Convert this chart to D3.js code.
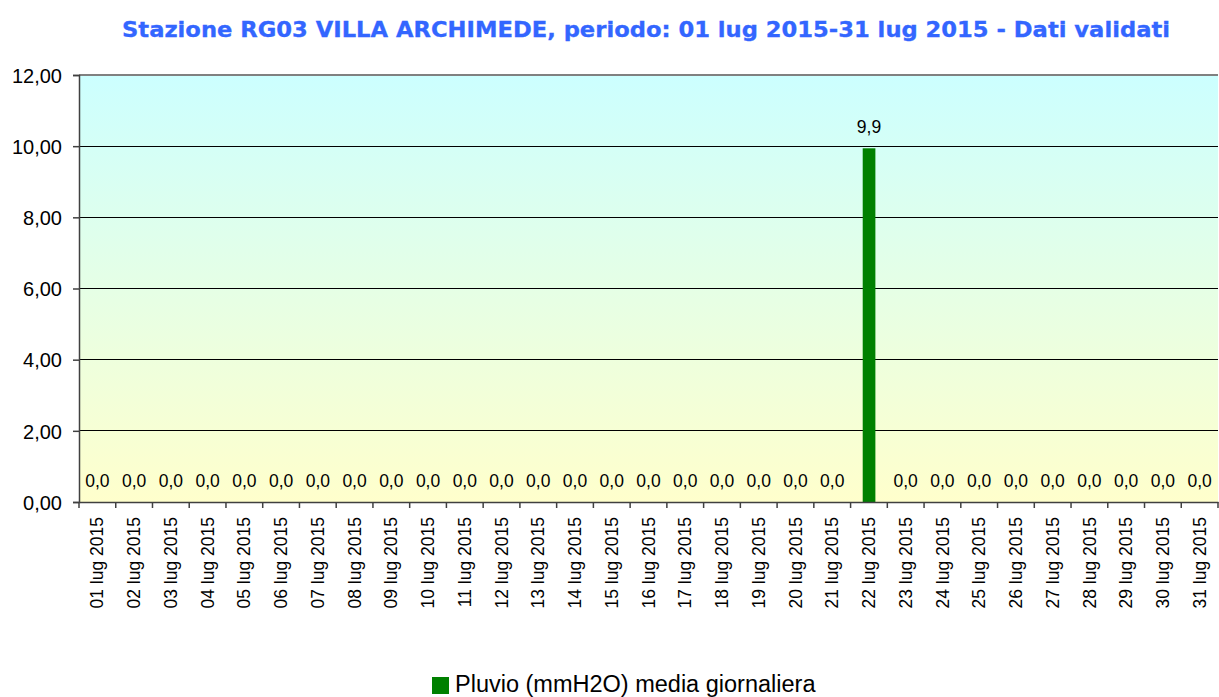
<!DOCTYPE html>
<html><head><meta charset="utf-8">
<script src="https://cdn.jsdelivr.net/npm/d3@7"></script>
<style>body{margin:0;background:#fff}svg{display:block}</style>
</head><body><svg id="c" width="1219" height="697"></svg>
<script>
const days = Array.from({length:31},(_,i)=>String(i+1).padStart(2,"0")+" lug 2015");
const values = [0,0,0,0,0,0,0,0,0,0,0,0,0,0,0,0,0,0,0,0,0,9.94,0,0,0,0,0,0,0,0,0];
const yTicks = [0,2,4,6,8,10,12];
const title = "Stazione RG03 VILLA ARCHIMEDE, periodo: 01 lug 2015-31 lug 2015 - Dati validati";
const legendLabel = "Pluvio (mmH2O) media giornaliera";

const svg = d3.select("#c");
const m = {l:79, r:1218, t:75, b:502};
const x = d3.scaleBand().domain(days).range([m.l, m.r]).paddingInner(0).paddingOuter(0);
const y = d3.scaleLinear().domain([0,12]).range([m.b, m.t]);

const defs = svg.append("defs");
const g = defs.append("linearGradient").attr("id","bg").attr("x1",0).attr("y1",0).attr("x2",0).attr("y2",1);
g.append("stop").attr("offset","0%").attr("stop-color","#ccffff");
g.append("stop").attr("offset","100%").attr("stop-color","#ffffcc");

svg.append("rect").attr("x",m.l).attr("y",m.t).attr("width",m.r-m.l).attr("height",m.b-m.t).attr("fill","url(#bg)");

// gridlines
svg.append("g").selectAll("line").data(yTicks.filter(d=>d>0&&d<12)).join("line")
  .attr("x1",m.l).attr("x2",m.r).attr("y1",d=>y(d)).attr("y2",d=>y(d))
  .attr("stroke","#000").attr("stroke-width",1).attr("shape-rendering","crispEdges");
svg.append("line").attr("x1",m.l).attr("x2",m.r).attr("y1",y(12)).attr("y2",y(12))
  .attr("stroke","#808080").attr("stroke-width",1.5).attr("shape-rendering","crispEdges");

// bars
svg.append("g").selectAll("rect").data(values).join("rect")
  .attr("x",(d,i)=>x(days[i])+x.bandwidth()*0.33).attr("width",x.bandwidth()*0.345)
  .attr("y",d=>y(d)).attr("height",d=>y(0)-y(d)).attr("fill","#008000");

// value labels
svg.append("g").selectAll("text").data(values).join("text")
  .attr("x",(d,i)=>x(days[i])+x.bandwidth()/2).attr("y",d=>y(d)-15)
  .attr("text-anchor","middle").attr("font-family","Liberation Sans, Arial, sans-serif")
  .attr("font-size",17.5).attr("fill","#000")
  .text(d=>(Math.floor(d*10)/10).toFixed(1).replace(".",","));

// y axis
const ya = d3.axisLeft(y).tickValues(yTicks).tickSize(6).tickFormat(d=>d.toFixed(2).replace(".",","));
const yg = svg.append("g").attr("transform",`translate(${m.l},0)`).call(ya);
yg.select(".domain").attr("stroke","#404040").attr("stroke-width",1.5);
yg.selectAll(".tick line").attr("stroke","#404040").attr("stroke-width",1.5);
yg.selectAll("text").attr("font-family","Liberation Sans, Arial, sans-serif").attr("font-size",20).attr("fill","#000").attr("x",-17).attr("dy","0.36em");

// x axis
const xa = d3.axisBottom(x).tickSize(0).tickSizeOuter(0);
const xg = svg.append("g").attr("transform",`translate(0,${m.b})`).call(xa);
xg.select(".domain").attr("stroke","#404040").attr("stroke-width",1.5);
xg.selectAll(".tick text").attr("font-family","Liberation Sans, Arial, sans-serif").attr("font-size",17.5).attr("fill","#000")
  .attr("transform","rotate(-90)").attr("text-anchor","end").attr("x",-15).attr("y",0).attr("dy","0.35em");
// boundary ticks
svg.append("g").selectAll("line").data(days.concat(["end"])).join("line")
  .attr("x1",(d,i)=>m.l+i*x.bandwidth()).attr("x2",(d,i)=>m.l+i*x.bandwidth())
  .attr("y1",m.b).attr("y2",m.b+6).attr("stroke","#404040").attr("stroke-width",1.5);

// title
svg.append("text").attr("x",646).attr("y",37).attr("text-anchor","middle")
  .attr("font-family","DejaVu Sans, Verdana, sans-serif").attr("font-weight","bold")
  .attr("font-size",21).attr("fill","#3366ff").attr("stroke","#3366ff").attr("stroke-width",0.3)
  .attr("textLength",1048).attr("lengthAdjust","spacingAndGlyphs").text(title);

// legend
svg.append("rect").attr("x",432).attr("y",677).attr("width",17).attr("height",17).attr("fill","#008000");
svg.append("text").attr("x",455).attr("y",692).attr("font-family","Liberation Sans, Arial, sans-serif")
  .attr("font-size",23.5).attr("fill","#000").text(legendLabel);
</script></body></html>
